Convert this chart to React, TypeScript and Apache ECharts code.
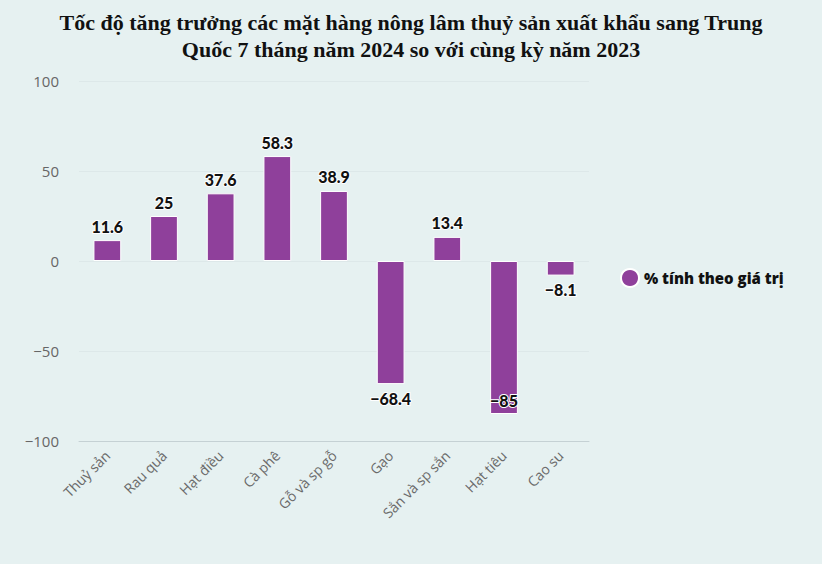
import React, { useEffect, useRef } from "react";
import * as echarts from "echarts";

const categories = ["Thuỷ sản", "Rau quả", "Hạt điều", "Cà phê", "Gỗ và sp gỗ", "Gạo", "Sắn và sp sắn", "Hạt tiêu", "Cao su"];
const values = [11.6, 25, 37.6, 58.3, 38.9, -68.4, 13.4, -85, -8.1];
const seriesName = "% tính theo giá trị";
const titleLines = [
  "Tốc độ tăng trưởng các mặt hàng nông lâm thuỷ sản xuất khẩu sang Trung",
  "Quốc 7 tháng năm 2024 so với cùng kỳ năm 2023",
];

const minus = (v: number | string) => String(v).replace("-", "−");

export default function App() {
  const ref = useRef<HTMLDivElement>(null);
  useEffect(() => {
    const chart = echarts.init(ref.current!, null, { renderer: "svg" });
    chart.setOption({
      animation: false,
      backgroundColor: "#e6f1f1",
      title: {
        text: titleLines.join("\n"),
        left: "center",
        top: 4,
        textStyle: {
          fontFamily: "Liberation Serif",
          fontWeight: "bold",
          fontSize: 22,
          lineHeight: 27,
          color: "#111",
        },
      },
      legend: {
        orient: "vertical",
        left: 615,
        top: 263,
        icon: "circle",
        itemWidth: 18,
        itemHeight: 18,
        itemGap: 8,
        textStyle: { fontFamily: "Open Sans", fontWeight: 800, fontSize: 15, color: "#111" },
      },
      grid: { left: 79, right: 233, top: 81, bottom: 123, containLabel: false },
      xAxis: {
        type: "category",
        data: categories,
        axisLine: { onZero: false, lineStyle: { color: "#c5d1d4" } },
        axisTick: { show: false },
        axisLabel: {
          rotate: 45,
          interval: 0,
          margin: 12,
          fontFamily: "Open Sans",
          fontSize: 14,
          color: "#6a6a6a",
        },
      },
      yAxis: {
        type: "value",
        min: -100,
        max: 100,
        interval: 50,
        axisLine: { show: false },
        axisTick: { show: false },
        splitLine: { lineStyle: { color: "#dde8e9" } },
        axisLabel: {
          fontFamily: "Open Sans",
          fontSize: 15,
          color: "#666",
          margin: 20,
          formatter: (v: number) => minus(v),
        },
      },
      series: [
        {
          name: seriesName,
          type: "bar",
          barWidth: "49%",
          itemStyle: { color: "#8f409b", borderColor: "#ffffff", borderWidth: 1 },
          label: {
            show: true,
            fontFamily: "Lato",
            fontWeight: 900,
            fontSize: 16,
            color: "#111",
            textBorderColor: "#ffffff",
            textBorderWidth: 2,
            distance: 6,
            formatter: (p: any) => minus(p.value),
          },
          data: values.map((v, i) => ({
            value: v,
            label: { position: v >= 0 ? "top" : i === 7 ? "insideBottom" : "bottom" },
          })),
        },
      ],
    });
    return () => chart.dispose();
  }, []);
  return <div ref={ref} style={{ position: "fixed", left: 0, top: 0, width: 822, height: 564 }} />;
}
